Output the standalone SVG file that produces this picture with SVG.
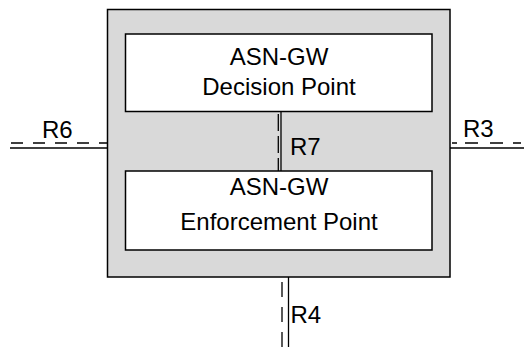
<svg xmlns="http://www.w3.org/2000/svg" width="524" height="347" viewBox="0 0 524 347">
<style>
.box{fill:#fff;stroke:#000;stroke-width:1.5}
.outer{fill:#d9d9d9;stroke:#000;stroke-width:1.5}
.t{font-family:"Liberation Sans",Arial,sans-serif;font-size:24px;fill:#000}
.solid{stroke:#000;stroke-width:1.3;fill:none}
.dash{stroke:#000;stroke-width:1.3;fill:none;stroke-dasharray:12,10}
</style>
<rect width="524" height="347" fill="#fff"/>
<g id="asn-gw">
<rect class="outer" x="107.5" y="9.5" width="342.5" height="267.5"/>
</g>
<g id="decision-point">
<rect class="box" x="125.5" y="34" width="306.5" height="77.5"/>
<text class="t" x="279" y="65" text-anchor="middle">ASN-GW</text>
<text class="t" x="279" y="95" text-anchor="middle">Decision Point</text>
</g>
<g id="enforcement-point">
<rect class="box" x="125.5" y="171" width="306.5" height="79"/>
<text class="t" x="279" y="195" text-anchor="middle">ASN-GW</text>
<text class="t" x="279" y="230" text-anchor="middle">Enforcement Point</text>
</g>
<g id="connectors">
<line class="solid" x1="10" y1="148" x2="107.5" y2="148"/>
<line class="dash" x1="11" y1="143" x2="107.5" y2="143"/>
<text class="t" x="42" y="138">R6</text>
<line class="solid" x1="450" y1="148" x2="524" y2="148"/>
<line class="dash" x1="452" y1="143" x2="524" y2="143" style="stroke-dasharray:5,8,13,12,13,10,8"/>
<text class="t" x="463" y="137">R3</text>
<line class="solid" x1="281" y1="111.5" x2="281" y2="171"/>
<line class="dash" x1="278.3" y1="114" x2="278.3" y2="171" style="stroke-dasharray:17,5"/>
<text class="t" x="290" y="155">R7</text>
<line class="solid" x1="288.5" y1="277" x2="288.5" y2="347"/>
<line class="dash" x1="282" y1="282" x2="282" y2="347" style="stroke-dasharray:15,10"/>
<text class="t" x="290.5" y="323">R4</text>
</g>
</svg>
